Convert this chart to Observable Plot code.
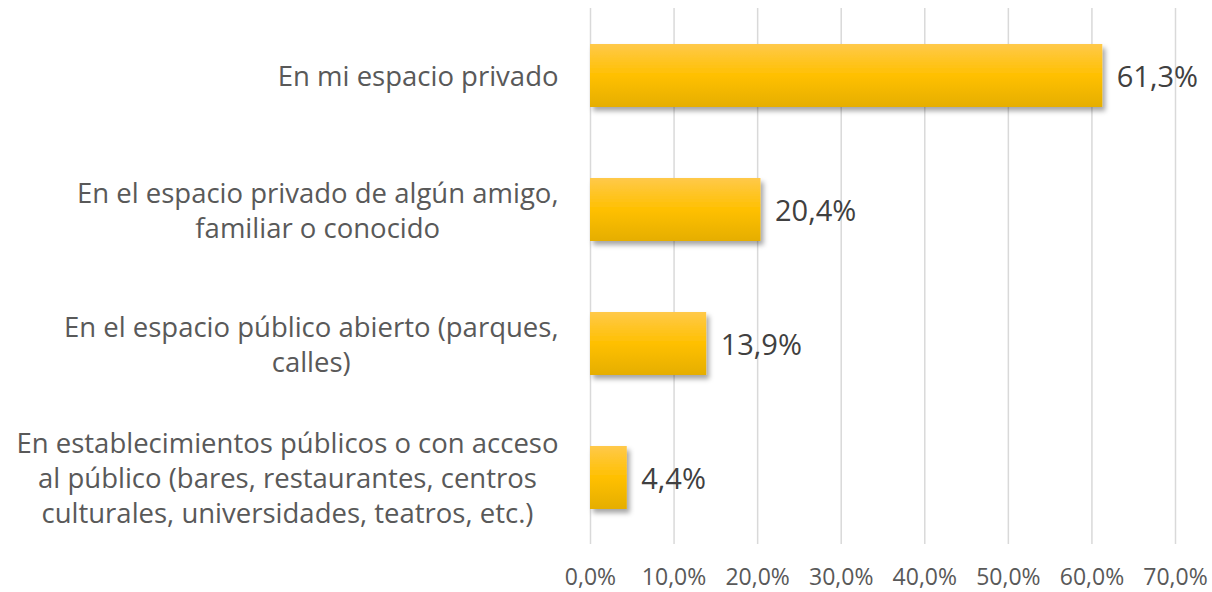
<!DOCTYPE html>
<html>
<head>
<meta charset="utf-8">
<script src="https://cdn.jsdelivr.net/npm/d3@7"></script>
<script src="https://cdn.jsdelivr.net/npm/@observablehq/plot@0.6"></script>
<style>
  html, body { margin: 0; padding: 0; background: #fff; }
  #chart svg { display: block; }
</style>
</head>
<body>
<div id="chart"></div>
<script>
const categories = [
  "En mi espacio privado",
  "En el espacio privado de algún amigo,\nfamiliar o conocido",
  "En el espacio público abierto (parques,\ncalles)",
  "En establecimientos públicos o con acceso\nal público (bares, restaurantes, centros\nculturales, universidades, teatros, etc.)"
];
const values = [61.3, 20.4, 13.9, 4.4];
const xTicks = [0, 10, 20, 30, 40, 50, 60, 70];

const data = categories.map((c, i) => ({ category: c, value: values[i] }));
const fmt = v => d3.format(".1f")(v).replace(".", ",") + "%";

const FONT = "Open Sans, sans-serif";
const labelSize = 27.5;
const canvas = document.createElement("canvas");
const ctx = canvas.getContext("2d");
ctx.font = `${labelSize}px "Open Sans"`;
function blockWidth(s) {
  return Math.max(...s.split("\n").map(l => ctx.measureText(l).width));
}

const defs = () => {
  const svgns = "http://www.w3.org/2000/svg";
  const g = document.createElementNS(svgns, "defs");
  g.innerHTML = `
    <linearGradient id="barGrad" x1="0" y1="0" x2="0" y2="1">
      <stop offset="0" stop-color="#FFC94A"/>
      <stop offset="0.5" stop-color="#FFC000"/>
      <stop offset="1" stop-color="#E5AE00"/>
    </linearGradient>
    <filter id="shadow" x="-10%" y="-20%" width="130%" height="160%">
      <feDropShadow dx="3" dy="4" stdDeviation="2.5" flood-color="#000" flood-opacity="0.35"/>
    </filter>`;
  return g;
};

const labelMarks = data.map(d =>
  Plot.text([d], {
    x: () => 0,
    y: "category",
    text: "category",
    textAnchor: "middle",
    lineAnchor: "middle",
    lineHeight: 1.27,
    dx: -(32 + blockWidth(d.category) / 2),
    dy: -1,
    fontSize: labelSize,
    fill: "#595959"
  })
);

const chart = Plot.plot({
  width: 1212,
  height: 592,
  marginLeft: 590,
  marginRight: 37,
  marginTop: 8,
  marginBottom: 48,
  style: { fontFamily: FONT, background: "#fff", overflow: "visible" },
  x: { domain: [0, 70], ticks: xTicks, axis: null },
  y: { domain: categories, paddingInner: 0.53, paddingOuter: 0.265, axis: null },
  marks: [
    defs,
    Plot.ruleX(xTicks, { stroke: "#d9d9d9", strokeWidth: 1.5 }),
    Plot.barX(data, {
      x: "value",
      y: "category",
      fill: "url(#barGrad)"
    }),
    Plot.text(data, {
      x: "value",
      y: "category",
      text: d => fmt(d.value),
      textAnchor: "start",
      dx: 14,
      dy: 2,
      fontSize: 29,
      fill: "#404040"
    }),
    ...labelMarks,
    Plot.axisX({
      ticks: xTicks,
      tickFormat: fmt,
      tickSize: 0,
      tickPadding: 24,
      fontSize: 23,
      color: "#595959",
      label: null
    })
  ]
});

chart.querySelectorAll("rect").forEach(r => {
  if (r.getAttribute("fill") === "url(#barGrad)" || (r.parentNode && r.parentNode.getAttribute("fill") === "url(#barGrad)")) {
    r.setAttribute("filter", "url(#shadow)");
  }
});
document.getElementById("chart").appendChild(chart);
</script>
</body>
</html>
